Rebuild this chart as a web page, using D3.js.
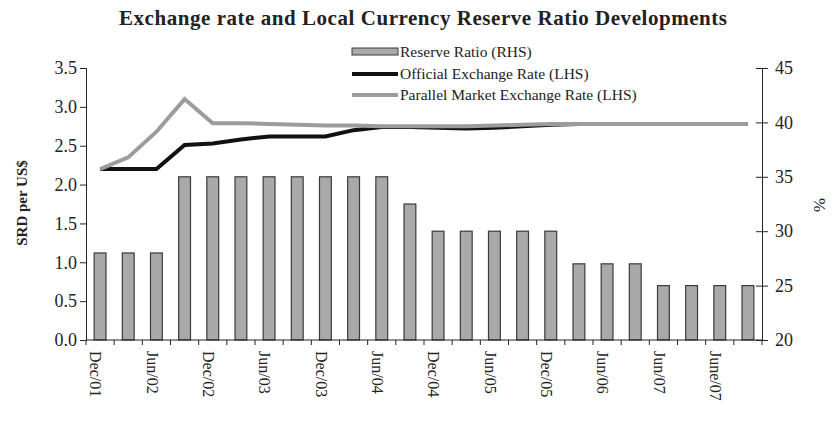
<!DOCTYPE html>
<html lang="en">
<head>
<meta charset="UTF-8">
<title>Exchange rate and Local Currency Reserve Ratio Developments</title>
<script src="https://d3js.org/d3.v7.min.js"></script>
<style>
  body { margin: 0; background: #fff; }
  text { font-family: "Liberation Serif", "DejaVu Serif", serif; fill: #222; }
</style>
</head>
<body>
<svg width="835" height="421"></svg>
<script>
// quarterly periods, Dec/01 .. Sep/07
const periods = d3.range(24);
const tickLabels = ["Dec/01", "Jun/02", "Dec/02", "Jun/03", "Dec/03", "Jun/04",
                    "Dec/04", "Jun/05", "Dec/05", "Jun/06", "Jun/07", "June/07"];
const reserveRatio = [28, 28, 28, 35, 35, 35, 35, 35, 35, 35, 35, 32.5,
                      30, 30, 30, 30, 30, 27, 27, 27, 25, 25, 25, 25];
const officialRate = [2.20, 2.20, 2.20, 2.51, 2.53, 2.58, 2.62, 2.62, 2.62, 2.70, 2.74, 2.74,
                      2.73, 2.72, 2.73, 2.75, 2.77, 2.78, 2.78, 2.78, 2.78, 2.78, 2.78, 2.78];
const parallelRate = [2.20, 2.35, 2.68, 3.10, 2.79, 2.79, 2.78, 2.77, 2.76, 2.76, 2.75, 2.75,
                      2.75, 2.75, 2.76, 2.77, 2.78, 2.78, 2.78, 2.78, 2.78, 2.78, 2.78, 2.78];

const svg = d3.select("svg");
const plotL = 86, plotR = 762, plotT = 68, plotB = 340;

const x = d3.scaleBand().domain(periods).range([plotL, plotR]).paddingInner(0.58).paddingOuter(0.29);
const xPos = d3.scaleBand().domain(periods).range([plotL, plotR]);
const yL = d3.scaleLinear().domain([0, 3.5]).range([plotB, plotT]);
const yR = d3.scaleLinear().domain([20, 45]).range([plotB, plotT]);

// title
svg.append("text")
    .attr("x", 423).attr("y", 25)
    .attr("text-anchor", "middle")
    .style("font-size", "21px").style("font-weight", "bold")
    .attr("textLength", 608)
    .text("Exchange rate and Local Currency Reserve Ratio Developments");

// bars
svg.selectAll(".bar")
    .data(periods)
    .enter().append("rect")
    .attr("class", "bar")
    .attr("x", d => x(d))
    .attr("width", x.bandwidth())
    .attr("y", d => yR(reserveRatio[d]))
    .attr("height", d => plotB - yR(reserveRatio[d]))
    .attr("fill", "#a9a9a9")
    .attr("stroke", "#3a3a3a")
    .attr("stroke-width", 1.2);

// lines
const cx = i => xPos(i) + xPos.bandwidth() / 2;
svg.append("path")
    .datum(periods)
    .attr("fill", "none")
    .attr("stroke", "#111")
    .attr("stroke-width", 4)
    .attr("d", d3.line().x(cx).y(i => yL(officialRate[i])));
svg.append("path")
    .datum(periods)
    .attr("fill", "none")
    .attr("stroke", "#9c9c9c")
    .attr("stroke-width", 4)
    .attr("d", d3.line().x(cx).y(i => yL(parallelRate[i])));

// left axis
const axL = svg.append("g")
    .attr("transform", `translate(${plotL},0)`)
    .call(d3.axisLeft(yL).tickValues(d3.range(0, 3.51, 0.5)).tickFormat(d3.format(".1f")).tickSizeOuter(0).tickSize(6));
axL.selectAll("text").style("font-size", "18px").attr("x", -9);

// right axis
const axR = svg.append("g")
    .attr("transform", `translate(${plotR},0)`)
    .call(d3.axisRight(yR).tickValues(d3.range(20, 46, 5)).tickSizeOuter(0).tickSize(6));
axR.selectAll(".tick line").attr("x1", -6).attr("x2", 6);
axR.selectAll("text").style("font-size", "18px").attr("x", 13);

// x axis
const axX = svg.append("g")
    .attr("transform", `translate(0,${plotB})`);
axX.append("line").attr("x1", plotL).attr("x2", plotR).attr("stroke", "#222");
axX.selectAll(".xt")
    .data(periods.concat([24]))
    .enter().append("line")
    .attr("x1", d => d < 24 ? xPos(d) : plotR)
    .attr("x2", d => d < 24 ? xPos(d) : plotR)
    .attr("y1", 0).attr("y2", 5)
    .attr("stroke", "#222");
axX.selectAll(".xl")
    .data(tickLabels)
    .enter().append("text")
    .attr("transform", (d, i) => `translate(${cx(i * 2) - 4},11) rotate(90)`)
    .attr("dy", "0.35em")
    .style("font-size", "16px")
    .text(d => d);

svg.selectAll(".domain, .tick line").attr("stroke", "#222");

// axis titles
svg.append("text")
    .attr("transform", "translate(22,203) rotate(-90)")
    .attr("text-anchor", "middle").attr("dy", "0.35em")
    .style("font-size", "15px").style("font-weight", "bold")
    .text("SRD per US$");
svg.append("text")
    .attr("transform", "translate(820,205) rotate(90)")
    .attr("text-anchor", "middle").attr("dy", "0.35em")
    .style("font-size", "17px")
    .text("%");

// legend
const legend = svg.append("g").attr("transform", "translate(352,0)");
const items = [
  { label: "Reserve Ratio (RHS)", y: 52, type: "bar" },
  { label: "Official Exchange Rate (LHS)", y: 74, type: "official" },
  { label: "Parallel Market Exchange Rate (LHS)", y: 95, type: "parallel" }
];
items.forEach(it => {
  if (it.type === "bar") {
    legend.append("rect").attr("x", 0).attr("y", it.y - 4).attr("width", 46).attr("height", 7)
      .attr("fill", "#a9a9a9").attr("stroke", "#3a3a3a");
  } else {
    legend.append("line").attr("x1", 0).attr("x2", 46).attr("y1", it.y).attr("y2", it.y)
      .attr("stroke", it.type === "official" ? "#111" : "#9c9c9c").attr("stroke-width", 4);
  }
  legend.append("text").attr("x", 48).attr("y", it.y).attr("dy", "0.35em")
    .style("font-size", "15.5px").text(it.label);
});
</script>
</body>
</html>
